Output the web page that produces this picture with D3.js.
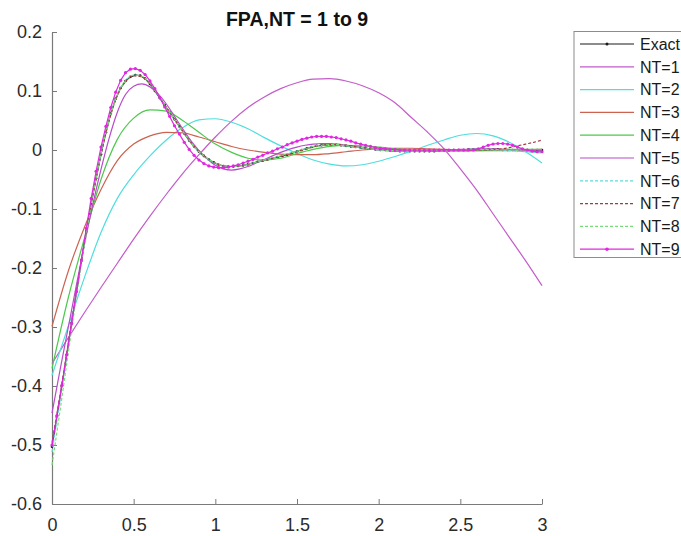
<!DOCTYPE html>
<html>
<head>
<meta charset="utf-8">
<script src="https://cdn.jsdelivr.net/npm/d3@7/dist/d3.min.js"></script>
<style>
  body { margin: 0; background: #fff; }
  svg { display: block; }
  text { font-family: "Liberation Sans", Arial, Helvetica, sans-serif; }
</style>
</head>
<body>
<svg id="chart" width="681" height="536"></svg>
<script>
// ---- data ---------------------------------------------------------------
const chartTitle = "FPA,NT = 1 to 9";
const seriesNames = ["Exact", "NT=1", "NT=2", "NT=3", "NT=4", "NT=5", "NT=6", "NT=7", "NT=8", "NT=9"];

const xTicks = [0, 0.5, 1, 1.5, 2, 2.5, 3];
const xTickLabels = ["0", "0.5", "1", "1.5", "2", "2.5", "3"];
const yTicks = [-0.6, -0.5, -0.4, -0.3, -0.2, -0.1, 0, 0.1, 0.2];
const yTickLabels = ["-0.6", "-0.5", "-0.4", "-0.3", "-0.2", "-0.1", "0", "0.1", "0.2"];

// sample grids of t
const tFine = d3.range(101).map(i => i * 0.03);   // 0 : 0.03 : 3
const tMid = d3.range(61).map(i => i * 0.05);     // 0 : 0.05 : 3
const tCoarse = d3.range(31).map(i => i * 0.1);   // 0 : 0.1 : 3

const exact = [
  -0.503, -0.452, -0.400, -0.347, -0.293, -0.240, -0.188, -0.138, -0.091, -0.048,
  -0.007, 0.030, 0.062, 0.087, 0.105, 0.117, 0.124, 0.127, 0.126, 0.121,
  0.112, 0.100, 0.088, 0.076, 0.064, 0.052, 0.040, 0.028, 0.016, 0.006,
  -0.003, -0.010, -0.016, -0.021, -0.025, -0.027, -0.028, -0.028, -0.027, -0.026,
  -0.024, -0.022, -0.020, -0.018, -0.016, -0.014, -0.012, -0.010, -0.008, -0.005,
  -0.002, 0.000, 0.003, 0.005, 0.007, 0.008, 0.009, 0.009, 0.009, 0.008,
  0.007, 0.006, 0.005, 0.004, 0.003, 0.002, 0.001, 0.000, 0.000, -0.001,
  -0.001, -0.002, -0.002, -0.002, -0.002, -0.002, -0.002, -0.002, -0.002, -0.001,
  -0.001, -0.001, 0.000, 0.000, 0.000, 0.001, 0.001, 0.001, 0.001, 0.001,
  0.001, 0.001, 0.000, 0.000, 0.000, 0.000, 0.000, 0.000, 0.000, 0.000,
  0.000
];

const nt1 = [
  -0.362, -0.318, -0.275, -0.233, -0.192, -0.151, -0.112, -0.075, -0.040, -0.008,
  0.022, 0.049, 0.072, 0.090, 0.104, 0.114, 0.120, 0.121, 0.117, 0.109,
  0.097, 0.080, 0.055, 0.030, 0.002, -0.032, -0.068, -0.108, -0.148, -0.188,
  -0.230
];

const nt2 = [
  -0.382, -0.298, -0.215, -0.140, -0.082, -0.042, -0.010, 0.017, 0.038, 0.051,
  0.053, 0.047, 0.036, 0.021, 0.007, -0.006, -0.017, -0.024, -0.027, -0.025,
  -0.019, -0.011, -0.002, 0.008, 0.017, 0.025, 0.028, 0.024, 0.013, -0.003,
  -0.022
];

const nt3 = [
  -0.299, -0.205, -0.130, -0.067, -0.018, 0.010, 0.024, 0.030, 0.029, 0.022,
  0.014, 0.006, 0.000, -0.004, -0.007, -0.008, -0.008, -0.006, -0.003, 0.000,
  0.002, 0.003, 0.003, 0.002, 0.001, 0.000, -0.001, -0.001, -0.001, 0.000,
  0.001
];

const nt4 = [
  -0.370, -0.250, -0.148, -0.050, 0.018, 0.054, 0.068, 0.066, 0.050, 0.030,
  0.010, -0.004, -0.014, -0.017, -0.014, -0.006, 0.001, 0.006, 0.008, 0.007,
  0.005, 0.002, 0.000, -0.001, -0.002, -0.002, -0.001, 0.000, 0.001, 0.001,
  0.001
];

const nt5 = [
  -0.446, -0.372, -0.300, -0.228, -0.158, -0.092, -0.033, 0.020, 0.064, 0.094,
  0.108, 0.112, 0.107, 0.095, 0.078, 0.057, 0.036, 0.016, -0.001, -0.015,
  -0.026, -0.032, -0.034, -0.032, -0.028, -0.022, -0.016, -0.010, -0.004, 0.001,
  0.005, 0.008, 0.010, 0.011, 0.011, 0.010, 0.008, 0.006, 0.004, 0.002,
  0.000, -0.001, -0.002, -0.002, -0.002, -0.002, -0.001, -0.001, 0.000, 0.000,
  0.001, 0.001, 0.002, 0.002, 0.002, 0.001, 0.000, -0.001, -0.002, -0.002,
  -0.001
];

const nt6 = [
  -0.512, -0.424, -0.332, -0.241, -0.155, -0.076, -0.006, 0.052, 0.094, 0.118,
  0.127, 0.124, 0.112, 0.092, 0.071, 0.051, 0.031, 0.012, -0.004, -0.015,
  -0.023, -0.027, -0.028, -0.027, -0.024, -0.021, -0.017, -0.013, -0.010, -0.006,
  -0.002, 0.002, 0.006, 0.008, 0.009, 0.009, 0.007, 0.005, 0.003, 0.002,
  0.000, -0.001, -0.001, -0.002, -0.002, -0.002, -0.002, -0.001, -0.001, 0.000,
  0.000, 0.001, 0.001, 0.001, 0.000, 0.000, -0.001, -0.002, -0.003, -0.004,
  -0.005
];

const nt7 = [
  -0.496, -0.414, -0.327, -0.239, -0.155, -0.077, -0.008, 0.050, 0.092, 0.116,
  0.126, 0.124, 0.112, 0.093, 0.072, 0.052, 0.032, 0.013, -0.003, -0.014,
  -0.022, -0.027, -0.028, -0.027, -0.025, -0.021, -0.018, -0.014, -0.011, -0.007,
  -0.003, 0.001, 0.005, 0.008, 0.009, 0.009, 0.008, 0.006, 0.004, 0.002,
  0.001, 0.000, -0.001, -0.001, -0.002, -0.002, -0.002, -0.001, -0.001, 0.000,
  0.000, 0.000, 0.000, 0.000, 0.001, 0.002, 0.004, 0.007, 0.010, 0.013,
  0.017
];

const nt8 = [
  -0.534, -0.440, -0.343, -0.248, -0.158, -0.077, -0.007, 0.051, 0.093, 0.117,
  0.127, 0.125, 0.113, 0.093, 0.072, 0.052, 0.032, 0.013, -0.003, -0.014,
  -0.022, -0.027, -0.028, -0.027, -0.024, -0.021, -0.017, -0.014, -0.010, -0.006,
  -0.002, 0.002, 0.006, 0.008, 0.009, 0.009, 0.007, 0.005, 0.004, 0.002,
  0.000, -0.001, -0.001, -0.002, -0.002, -0.002, -0.002, -0.001, -0.001, 0.000,
  0.000, 0.001, 0.001, 0.001, 0.001, 0.000, 0.000, -0.001, -0.002, -0.003,
  -0.003
];

const nt9 = [
  -0.500, -0.450, -0.399, -0.347, -0.294, -0.240, -0.186, -0.133, -0.082, -0.036,
  0.005, 0.040, 0.072, 0.098, 0.118, 0.131, 0.137, 0.138, 0.135, 0.128,
  0.117, 0.104, 0.089, 0.073, 0.057, 0.041, 0.027, 0.013, 0.001, -0.009,
  -0.017, -0.023, -0.027, -0.029, -0.030, -0.030, -0.029, -0.027, -0.025, -0.022,
  -0.019, -0.016, -0.012, -0.009, -0.005, -0.002, 0.002, 0.005, 0.009, 0.012,
  0.015, 0.018, 0.020, 0.022, 0.023, 0.023, 0.023, 0.022, 0.021, 0.019,
  0.017, 0.015, 0.012, 0.010, 0.008, 0.006, 0.004, 0.003, 0.002, 0.001,
  0.001, 0.000, 0.000, 0.000, 0.000, 0.000, 0.000, 0.000, 0.000, 0.000,
  0.000, 0.000, 0.000, 0.000, 0.000, 0.000, 0.000, 0.002, 0.005, 0.008,
  0.010, 0.011, 0.011, 0.010, 0.008, 0.005, 0.002, 0.000, -0.002, -0.003,
  -0.003
];

// ---- styling per series -------------------------------------------------
const seriesList = [
  { name: seriesNames[0], t: tFine,   v: exact, color: "#1a1a1a", dash: null,  marker: 1.3 },
  { name: seriesNames[1], t: tCoarse, v: nt1,   color: "#c35cca", dash: null,  marker: 0 },
  { name: seriesNames[2], t: tCoarse, v: nt2,   color: "#4fdede", dash: null,  marker: 0 },
  { name: seriesNames[3], t: tCoarse, v: nt3,   color: "#cc6250", dash: null,  marker: 0 },
  { name: seriesNames[4], t: tCoarse, v: nt4,   color: "#4cc84c", dash: null,  marker: 0 },
  { name: seriesNames[5], t: tMid,    v: nt5,   color: "#b84cc8", dash: null,  marker: 0 },
  { name: seriesNames[6], t: tMid,    v: nt6,   color: "#5fdcdc", dash: "3,2", marker: 0 },
  { name: seriesNames[7], t: tMid,    v: nt7,   color: "#a53a3a", dash: "3,2", marker: 0 },
  { name: seriesNames[8], t: tMid,    v: nt8,   color: "#78dc78", dash: "3,2", marker: 0 },
  { name: seriesNames[9], t: tFine,   v: nt9,   color: "#e028e0", dash: null,  marker: 1.6 }
];

// ---- layout -------------------------------------------------------------
const svg = d3.select("#chart");
const x = d3.scaleLinear().domain([0, 3]).range([52, 542]);
const y = d3.scaleLinear().domain([-0.6, 0.2]).range([504, 32]);
const axisColor = "#7a7a7a";
const labelColor = "#2b2b2b";

// axes (no box, ticks pointing inward)
const gx = svg.append("g")
  .attr("transform", `translate(0,${y(-0.6)})`)
  .call(d3.axisBottom(x).tickValues(xTicks)
    .tickFormat((d, i) => xTickLabels[i])
    .tickSizeInner(-5).tickSizeOuter(0).tickPadding(14));
const gy = svg.append("g")
  .attr("transform", `translate(${x(0)},0)`)
  .call(d3.axisLeft(y).tickValues(yTicks)
    .tickFormat((d, i) => yTickLabels[i])
    .tickSizeInner(-5).tickSizeOuter(0).tickPadding(10));

[gx, gy].forEach(g => {
  g.select(".domain").attr("stroke", axisColor).attr("stroke-width", 1.2);
  g.selectAll(".tick line").attr("stroke", axisColor).attr("stroke-width", 1);
  g.selectAll(".tick text")
    .attr("fill", labelColor)
    .style("font-size", "18px")
    .style("font-family", "'Liberation Sans', Arial, sans-serif");
});

// title
svg.append("text")
  .attr("x", (x(0) + x(3)) / 2)
  .attr("y", 26)
  .attr("text-anchor", "middle")
  .style("font-size", "19.5px")
  .style("font-weight", "bold")
  .attr("fill", "#111")
  .text(chartTitle);

// curves
const plot = svg.append("g");
seriesList.forEach(s => {
  const pts = s.t.map((t, i) => [t, s.v[i]]);
  const line = d3.line()
    .x(d => x(d[0]))
    .y(d => y(d[1]))
    .curve(s.t === tFine ? d3.curveLinear : d3.curveMonotoneX);
  plot.append("path")
    .datum(pts)
    .attr("fill", "none")
    .attr("stroke", s.color)
    .attr("stroke-width", 1.2)
    .attr("stroke-dasharray", s.dash)
    .attr("stroke-linejoin", "round")
    .attr("d", line);
  if (s.marker > 0) {
    plot.append("g").selectAll("circle")
      .data(pts)
      .join("circle")
      .attr("cx", d => x(d[0]))
      .attr("cy", d => y(d[1]))
      .attr("r", s.marker)
      .attr("fill", s.color);
  }
});

// legend
const legend = svg.append("g").attr("transform", "translate(574,31.5)");
legend.append("rect")
  .attr("x", 0).attr("y", 0)
  .attr("width", 140).attr("height", 226)
  .attr("fill", "#fff")
  .attr("stroke", "#8c8c8c")
  .attr("stroke-width", 1);
seriesList.forEach((s, i) => {
  const cy = 12.5 + i * 22.8;
  const row = legend.append("g").attr("transform", `translate(0,${cy})`);
  row.append("line")
    .attr("x1", 6).attr("x2", 60)
    .attr("y1", 0).attr("y2", 0)
    .attr("stroke", s.color)
    .attr("stroke-width", 1.2)
    .attr("stroke-dasharray", s.dash);
  if (s.marker > 0) {
    row.append("circle").attr("cx", 33).attr("cy", 0)
      .attr("r", s.marker + 0.2).attr("fill", s.color);
  }
  row.append("text")
    .attr("x", 66).attr("y", 0)
    .attr("dy", "0.36em")
    .attr("fill", "#1a1a1a")
    .style("font-size", "16px")
    .text(s.name);
});
</script>
</body>
</html>
